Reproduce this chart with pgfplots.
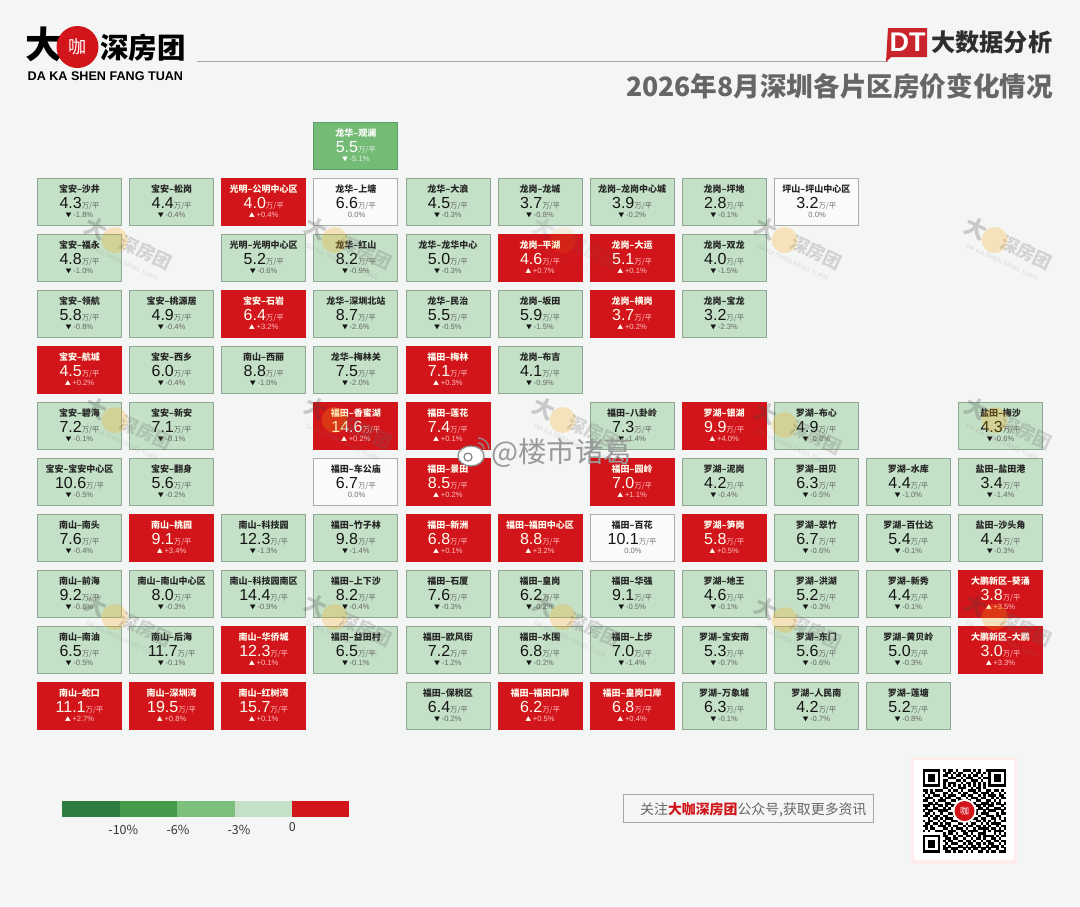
\documentclass[border=0pt]{standalone}
\usepackage{pgfplots}
\usepackage{pgfplotstable}
\usepackage{fontspec}
\pgfplotsset{compat=1.18}
\setmainfont{Noto Sans CJK SC}
\newfontfamily\arial{Liberation Sans}
\definecolor{bg}{HTML}{F4F6F5}
\definecolor{lgreen}{HTML}{C4E0C7}
\definecolor{lgedge}{HTML}{8FA895}
\definecolor{mgreen}{HTML}{74BB76}
\definecolor{mgedge}{HTML}{5E9C68}
\definecolor{tred}{HTML}{D1151B}
\definecolor{tile white}{HTML}{FAFAFA}
\definecolor{wedge}{HTML}{A9ADAD}
\definecolor{leg1}{HTML}{2E7D3F}
\definecolor{leg2}{HTML}{449C4B}
\definecolor{leg3}{HTML}{7CC07C}
\definecolor{dtred}{HTML}{C9242B}
\pgfdeclareplotmark{tile}{\pgfpathrectangle{\pgfqpoint{-42pt}{-23.6pt}}{\pgfqpoint{84pt}{47.2pt}}\pgfusepathqfillstroke}
\pgfplotstableread{
c r name val chg
0 0 宝安–沙井 4.3 -1.8
1 0 宝安–松岗 4.4 -0.4
4 0 龙华–大浪 4.5 -0.3
5 0 龙岗–龙城 3.7 -0.8
6 0 龙岗–龙岗中心城 3.9 -0.2
7 0 龙岗–坪地 2.8 -0.1
0 1 宝安–福永 4.8 -1.0
2 1 光明–光明中心区 5.2 -0.6
3 1 龙华–红山 8.2 -0.9
4 1 龙华–龙华中心 5.0 -0.3
7 1 龙岗–双龙 4.0 -1.5
0 2 宝安–领航 5.8 -0.8
1 2 宝安–桃源居 4.9 -0.4
3 2 龙华–深圳北站 8.7 -2.6
4 2 龙华–民治 5.5 -0.5
5 2 龙岗–坂田 5.9 -1.5
7 2 龙岗–宝龙 3.2 -2.3
1 3 宝安–西乡 6.0 -0.4
2 3 南山–西丽 8.8 -1.0
3 3 龙华–梅林关 7.5 -2.0
5 3 龙岗–布吉 4.1 -0.9
0 4 宝安–碧海 7.2 -0.1
1 4 宝安–新安 7.1 -0.1
6 4 福田–八卦岭 7.3 -1.4
8 4 罗湖–布心 4.9 -0.8
10 4 盐田–梅沙 4.3 -0.6
0 5 宝安–宝安中心区 10.6 -0.5
1 5 宝安–翻身 5.6 -0.2
7 5 罗湖–泥岗 4.2 -0.4
8 5 罗湖–田贝 6.3 -0.5
9 5 罗湖–水库 4.4 -1.0
10 5 盐田–盐田港 3.4 -1.4
0 6 南山–南头 7.6 -0.4
2 6 南山–科技园 12.3 -1.3
3 6 福田–竹子林 9.8 -1.4
8 6 罗湖–翠竹 6.7 -0.6
9 6 罗湖–百仕达 5.4 -0.1
10 6 盐田–沙头角 4.4 -0.3
0 7 南山–前海 9.2 -0.6
1 7 南山–南山中心区 8.0 -0.3
2 7 南山–科技园南区 14.4 -0.9
3 7 福田–上下沙 8.2 -0.4
4 7 福田–石厦 7.6 -0.3
5 7 福田–皇岗 6.2 -0.2
6 7 福田–华强 9.1 -0.5
7 7 罗湖–地王 4.6 -0.1
8 7 罗湖–洪湖 5.2 -0.3
9 7 罗湖–新秀 4.4 -0.1
0 8 南山–南油 6.5 -0.5
1 8 南山–后海 11.7 -0.1
3 8 福田–益田村 6.5 -0.1
4 8 福田–欧风街 7.2 -1.2
5 8 福田–水围 6.8 -0.2
6 8 福田–上步 7.0 -1.4
7 8 罗湖–宝安南 5.3 -0.7
8 8 罗湖–东门 5.6 -0.6
9 8 罗湖–黄贝岭 5.0 -0.3
4 9 福田–保税区 6.4 -0.2
7 9 罗湖–万象城 6.3 -0.1
8 9 罗湖–人民南 4.2 -0.7
9 9 罗湖–莲塘 5.2 -0.8
}\greentiles
\pgfplotstableread{
c r name val chg
3 -1 龙华–观澜 5.5 -5.1
}\midtiles
\pgfplotstableread{
c r name val chg
2 0 光明–公明中心区 4.0 +0.4
5 1 龙岗–平湖 4.6 +0.7
6 1 龙岗–大运 5.1 +0.1
2 2 宝安–石岩 6.4 +3.2
6 2 龙岗–横岗 3.7 +0.2
0 3 宝安–航城 4.5 +0.2
4 3 福田–梅林 7.1 +0.3
3 4 福田–香蜜湖 14.6 +0.2
4 4 福田–莲花 7.4 +0.1
7 4 罗湖–银湖 9.9 +4.0
4 5 福田–景田 8.5 +0.2
6 5 福田–园岭 7.0 +1.1
1 6 南山–桃园 9.1 +3.4
4 6 福田–新洲 6.8 +0.1
5 6 福田–福田中心区 8.8 +3.2
7 6 罗湖–笋岗 5.8 +0.5
10 7 大鹏新区–葵涌 3.8 +3.5
2 8 南山–华侨城 12.3 +0.1
10 8 大鹏新区–大鹏 3.0 +3.3
0 9 南山–蛇口 11.1 +2.7
1 9 南山–深圳湾 19.5 +0.8
2 9 南山–红树湾 15.7 +0.1
5 9 福田–福田口岸 6.2 +0.5
6 9 福田–皇岗口岸 6.8 +0.4
}\redtiles
\pgfplotstableread{
c r name val chg
3 0 龙华–上塘 6.6 0.0
8 0 坪山–坪山中心区 3.2 0.0
3 5 福田–车公庙 6.7 0.0
6 6 福田–百花 10.1 0.0
}\whitetiles
% #1 table, #2 fill, #3 edge, #4 name colour, #5 value colour, #6 small colour, #7 symbol
\newcommand\tilelayer[7]{%
  \addplot[only marks,mark=tile,mark options={fill=#2,draw=#3,line width=0.8pt}] table[x=c,y=r]{#1};
  \addplot[draw=none,mark=none,point meta=explicit symbolic,
    nodes near coords={\pgfplotspointmeta},
    every node near coord/.append style={anchor=base,inner sep=0pt,yshift=9.4pt,text=#4,font=\bfseries\fontsize{9}{9}\selectfont}]
    table[x=c,y=r,meta=name]{#1};
  \addplot[draw=none,mark=none,point meta=explicit symbolic,
    nodes near coords={{\arial\fontsize{16}{16}\selectfont\pgfplotspointmeta}{\fontsize{7.4}{7.4}\selectfont\color{#6}万/平}},
    every node near coord/.append style={anchor=base,inner sep=0pt,yshift=-7.4pt,text=#5}]
    table[x=c,y=r,meta=val]{#1};
  \addplot[draw=none,mark=none,point meta=explicit symbolic,
    nodes near coords={{\color{#5}\fontsize{6}{6}\selectfont#7}\,{\arial\fontsize{7.6}{7.6}\selectfont\pgfplotspointmeta\%}},
    every node near coord/.append style={anchor=base,inner sep=0pt,yshift=-16.4pt,text=#6}]
    table[x=c,y=r,meta=chg]{#1};
}
\newcommand\wm[3][0.24]{%
  \begin{scope}[shift={(#2,#3)},rotate=-25,transform shape,opacity=#1]
    \node[text=black!75,font=\bfseries\fontsize{22}{22}\selectfont,inner sep=0pt] at (-38,0) {大};
    \fill[orange!70!yellow] (-16,2) circle (13pt);
    \node[text=black!60,font=\bfseries\fontsize{18}{18}\selectfont,inner sep=0pt] at (18,0) {深房团};
    \node[text=black!50,font=\arial\fontsize{6.5}{6.5}\selectfont,inner sep=0pt] at (0,19) {DA KA SHEN FANG TUAN};
  \end{scope}}
\newcount\qrx
\newcount\qry
\def\qrscan#1{\ifx#1\relax\else\if#11\fill[black] ({922.7+2.53*\the\qrx},{769+2.53*\the\qry}) rectangle +(2.6,2.6);\fi\advance\qrx by 1 \expandafter\qrscan\fi}
\def\qrline#1{\qrx=0 \qrscan#1\relax\advance\qry by 1 }
\begin{document}
\begin{tikzpicture}
\begin{scope}[x=1pt,y=-1pt]
\useasboundingbox (0,0) rectangle (1080,906);
\fill[bg] (0,0) rectangle (1080,906);
% header, left
\node[anchor=center,inner sep=0pt,font=\bfseries\fontsize{37}{37}\selectfont] at (44,44.5) {大};
\fill[tred] (77.5,47) circle (21pt);
\node[inner sep=0pt,text=white,font=\fontsize{18}{18}\selectfont] at (77.5,47) {咖};
\node[anchor=west,inner sep=0pt,font=\bfseries\fontsize{28.5}{28.5}\selectfont] at (100,47.5) {深房团};
\node[anchor=west,inner sep=0pt,font=\arial\bfseries\fontsize{12.6}{12.6}\selectfont] at (27.5,76) {DA KA SHEN FANG TUAN};
\draw[black!35,line width=0.8pt] (197,61.5) -- (888,61.5);
% header, right
\fill[dtred] (888,28) -- (927,28) -- (927,57) -- (891,57) -- (886,62) -- cycle;
\node[inner sep=0pt,text=white,font=\arial\bfseries\fontsize{27}{27}\selectfont] at (907.5,42.5) {DT};
\node[anchor=east,inner sep=0pt,text=black!82,font=\bfseries\fontsize{24.2}{24.2}\selectfont] at (1052.5,42.5) {大数据分析};
\node[anchor=east,inner sep=0pt,text=black!60,font=\bfseries\fontsize{26.6}{26.6}\selectfont] at (1053,86.5) {2026年8月深圳各片区房价变化情况};
\end{scope}
\begin{axis}[at={(540pt,-453pt)},anchor=center,width=1080pt,height=906pt,scale only axis,hide axis,
  xmin=-0.8632,xmax=10.8632,ymin=-3.598,ymax=12.58,y dir=reverse,clip=false]
\tilelayer{\greentiles}{lgreen}{lgedge}{black!85}{black!92}{black!60}{▼}
\tilelayer{\midtiles}{mgreen}{mgedge}{white}{white}{white!80!mgreen}{▼}
\tilelayer{\redtiles}{tred}{tred}{white!94!yellow}{white!94!yellow}{white!75!red}{▲}
\tilelayer{\whitetiles}{tile white}{wedge}{black!85}{black!92}{black!55}{}
\end{axis}
\begin{scope}[x=1pt,y=-1pt]
% watermarks
\wm{130}{245}\wm{350}{245}\wm[0.1]{578}{245}\wm{800}{245}\wm{1010}{245}
\wm{130}{425}\wm{350}{425}\wm{578}{425}\wm{800}{430}\wm{1010}{425}
\wm{130}{622}\wm{350}{622}\wm{578}{622}\wm{800}{625}\wm{1010}{622}
% weibo mark
\draw[black!45,fill=white,line width=1.3pt] (471,456) ellipse (13pt and 10pt);
\draw[black!45,line width=1.3pt] (468,457) circle (4pt);
\draw[black!45,line width=1.3pt] (478,443) arc (90:0:6pt);
\draw[black!45,line width=1.3pt] (478,438) arc (90:0:11pt);
\node[anchor=west,inner sep=0pt,text=black!40,font=\fontsize{28.5}{28.5}\selectfont] at (491,453) {@楼市诸葛};
% scale
\fill[leg1] (62.3,800.7) rectangle (120,816.7);
\fill[leg2] (120,800.7) rectangle (177.3,816.7);
\fill[leg3] (177.3,800.7) rectangle (235,816.7);
\fill[lgreen] (235,800.7) rectangle (292.3,816.7);
\fill[tred] (292.3,800.7) rectangle (349.3,816.7);
\foreach \lx/\lt in {123.3/-10\%,178/-6\%,239/-3\%}
  \node[inner sep=0pt,text=black!80,font=\fontsize{12.5}{12.5}\selectfont] at (\lx,830) {\lt};
\node[inner sep=0pt,text=black!80,font=\fontsize{12.5}{12.5}\selectfont] at (292.3,827) {0};
% follow box
\draw[black!35,line width=0.8pt,fill=bg] (623,794) rectangle (873,822.7);
\node[anchor=west,inner sep=0pt,text=black!60,font=\fontsize{13.9}{13.9}\selectfont] at (640,810) {关注{\color{tred}\bfseries 大咖深房团}公众号,获取更多资讯};
% QR
\fill[red!7] (911,757) rectangle (1017,864);
\fill[white,rounded corners=2pt] (914,760) rectangle (1014,860);
\qry=0
\qrline{111111101011010011101010011111111}
\qrline{100000100110101100010110101000001}
\qrline{101110101101011010101101001011101}
\qrline{101110100011100101110010111011101}
\qrline{101110101100011010011101001011101}
\qrline{100000101011100101101010101000001}
\qrline{111111101010101010101010101111111}
\qrline{000000001101001110010110100000000}
\qrline{110101110010110100111010011011010}
\qrline{010110001101001011001101110100101}
\qrline{101011101011100110110010101110110}
\qrline{011100010110011001011101100101011}
\qrline{110010111001101110100110011010100}
\qrline{001101000110010101101001110101101}
\qrline{111010110101100110010110101100010}
\qrline{010011001010111001101011010011101}
\qrline{101100111100010110110100101110010}
\qrline{011010010011101001001101110001011}
\qrline{110101101100110110110010011101100}
\qrline{001011010111001001011101100110101}
\qrline{101100101001110110100110101010011}
\qrline{011011010110001101011001010111100}
\qrline{110100111010110010110110101001011}
\qrline{010110001101011101001011110110101}
\qrline{101001110011100110111100101011110}
\qrline{000000001011010011010011100010101}
\qrline{111111101100101101101010111101011}
\qrline{100000100110110010010110100110100}
\qrline{101110101011001101101001011011011}
\qrline{101110100101110010110110101100101}
\qrline{101110101010001101011010010111010}
\qrline{100000101101110010101101101001001}
\qrline{111111100110101101010011010110111}
\fill[white] (964.5,811) circle (12pt);
\fill[tred] (964.5,811) circle (10pt);
\node[inner sep=0pt,text=white,font=\fontsize{9}{9}\selectfont] at (964.5,811) {咖};
\end{scope}
\end{tikzpicture}
\end{document}
